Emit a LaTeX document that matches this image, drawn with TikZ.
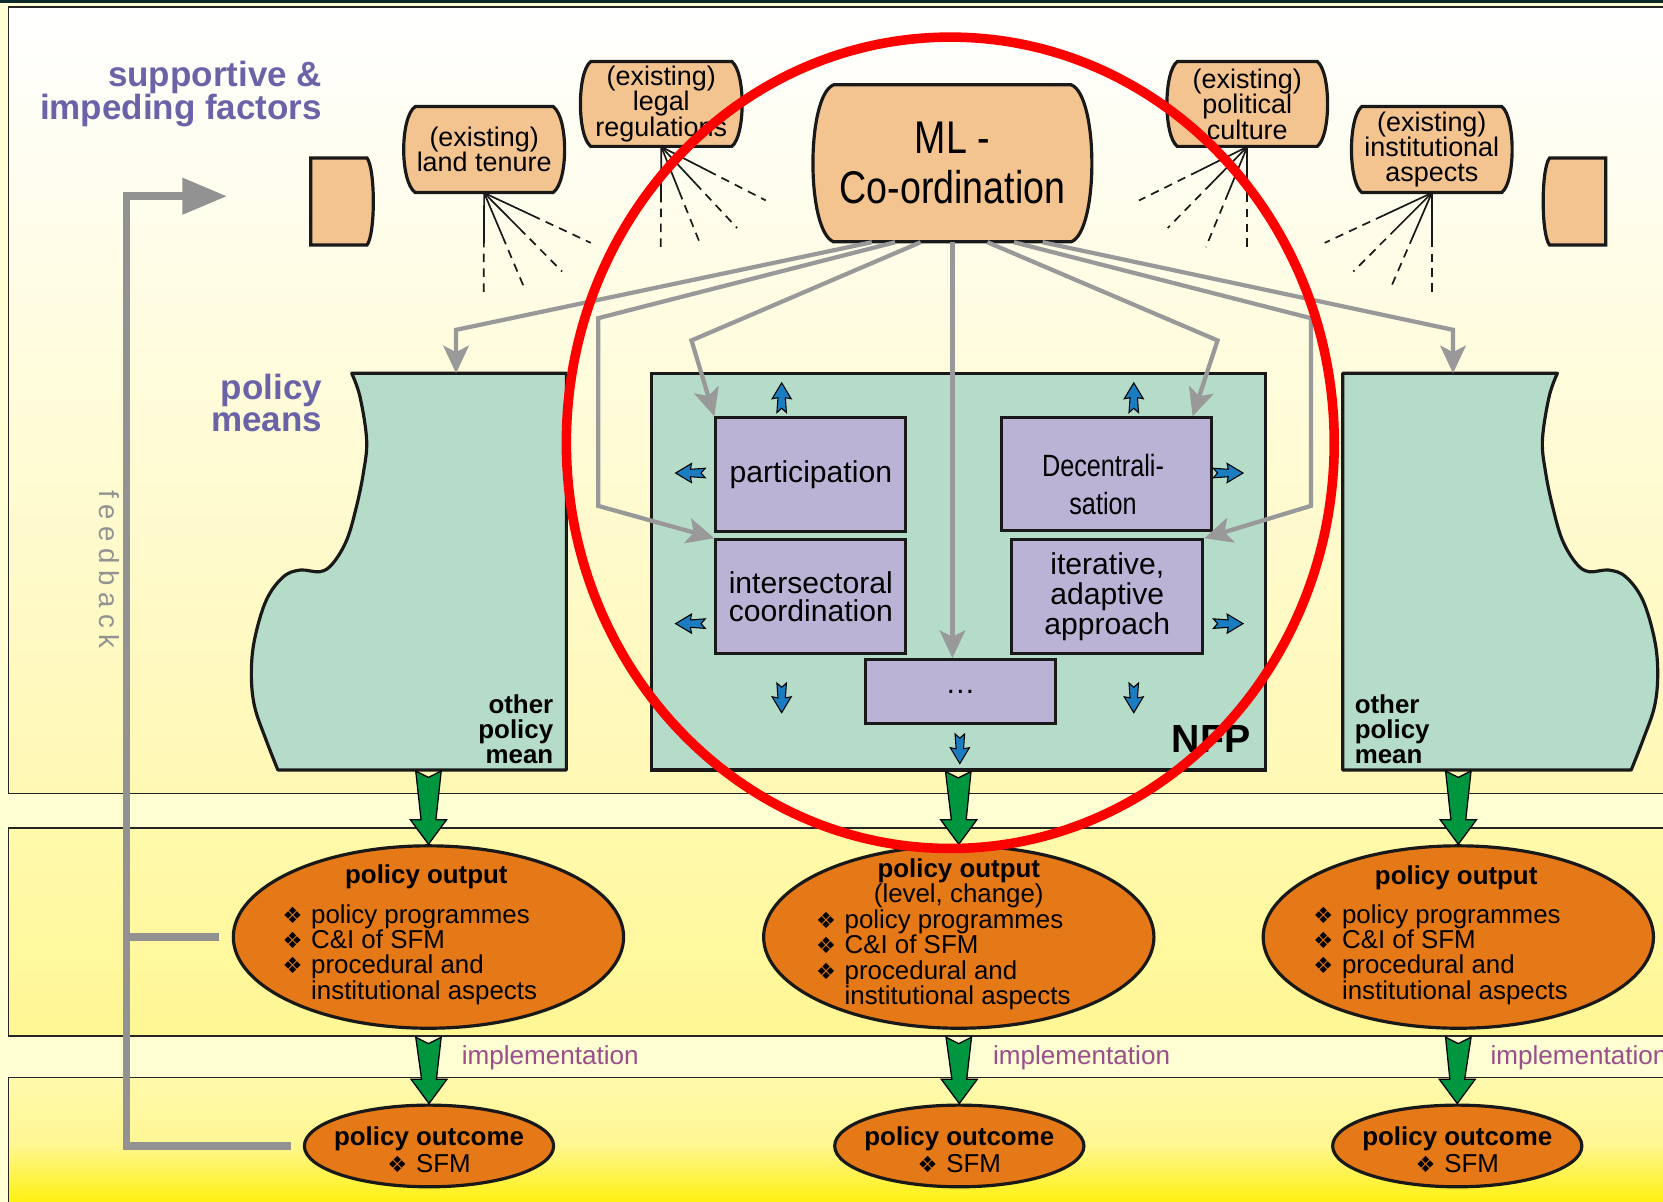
\documentclass[tikz,border=0pt]{standalone}
\usepackage{fontspec}
\setmainfont{Liberation Sans}
\newfontfamily\narrowfont[FakeStretch=0.82]{Liberation Sans}
\newfontfamily\dingfont{DejaVu Sans}
\usetikzlibrary{shapes.geometric,arrows.meta,calc}

\definecolor{peach}{HTML}{F4C490}
\definecolor{mint}{HTML}{B5DCC8}
\definecolor{lilac}{HTML}{BAB3D6}
\definecolor{orng}{HTML}{E57817}
\definecolor{grn}{HTML}{009640}
\definecolor{blu}{HTML}{1A7DC1}
\definecolor{titlec}{HTML}{6B63A8}
\definecolor{implc}{HTML}{9A4E8C}
\definecolor{cream}{HTML}{FFFDD2}
\definecolor{topband}{HTML}{0E2A2A}
\definecolor{ylwA}{HTML}{FFF8B4}
\definecolor{ylwB}{HTML}{FFF9AC}
\definecolor{ylwBb}{HTML}{FFF794}
\definecolor{ylwC}{HTML}{FFF000}
\definecolor{gline}{HTML}{999999}
\definecolor{fbgray}{HTML}{929292}

\newcommand\bul{\makebox[13.5pt][l]{\dingfont\fontsize{10.5}{10.5}\selectfont ❖}}

% barrel shaped factor box, then its text node
\newcommand\barrelnode[8][]{%
  \filldraw[facbox] (#3-#5/2,#4-#6/2) -- (#3+#5/2,#4-#6/2)
    .. controls (#3+#5/2+#7,#4-#6/2+10) and (#3+#5/2+#7,#4+#6/2-10) .. (#3+#5/2,#4+#6/2)
    -- (#3-#5/2,#4+#6/2)
    .. controls (#3-#5/2-#7,#4+#6/2-10) and (#3-#5/2-#7,#4-#6/2+10) .. cycle;
  \node[factxt, minimum height=#6*0.5pt, #1] (#2) at (#3,#4) {#8};}

% fan of influence lines
\newcommand\fan[2]{%
  \draw[fanl] (#1.south) -- ($(#1.south)!.45!(#2)$);
  \draw[fanl, dash pattern=on 4pt off 3pt] ($(#1.south)!.45!(#2)$) -- (#2);}

% green block arrow
\newcommand\grarrow[2]{%
  \filldraw[grnarr] let \p1=(#1), \p2=(#2) in
    (\x1-6pt,\y1) -- (\x1,\y1-3pt) -- (\x1+6pt,\y1) -- (\x2+3.5pt,\y2+11.5pt)
    -- (\x2+8.5pt,\y2+11.5pt) -- (\x2,\y2) -- (\x2-8.5pt,\y2+11.5pt)
    -- (\x2-3.5pt,\y2+11.5pt) -- cycle;}

\tikzset{
  facbox/.style={fill=peach, draw=black!90, line width=1.5pt},
  factxt/.style={inner sep=0, align=center, font=\fontsize{12.7}{12}\selectfont},
  fanl/.style={draw=black!90, line width=0.8pt},
  pmbox/.style={fill=mint, draw=black!90, line width=1.5pt, line join=round},
  ibox/.style={fill=lilac, draw=black!90, line width=1.5pt, inner sep=0, align=center,
    font=\fontsize{14.2}{13}\selectfont},
  garr/.style={draw=gline, line width=2pt, line join=miter,
    -{Stealth[length=13pt,width=12pt,inset=3pt]}},
  grnarr/.style={fill=grn, draw=black, line width=0.6pt, line join=miter},
  outell/.style={ellipse, fill=orng, draw=black!90, line width=1.5pt, inner sep=0},
  hdtxt/.style={inner sep=0, align=center, font=\fontsize{12.2}{11.8}\selectfont},
  lsttxt/.style={inner sep=0, align=left, font=\fontsize{12.2}{12}\selectfont},
  ttl/.style={inner sep=0, align=right, text=titlec, font=\bfseries\fontsize{16.5}{15.5}\selectfont},
  pmtxt/.style={inner sep=0, font=\bfseries\fontsize{12.2}{11.8}\selectfont},
  impl/.style={inner sep=0, text=implc, font=\fontsize{12.3}{12.3}\selectfont},
  fbline/.style={draw=fbgray, line width=3.5pt, line join=miter},
  panel/.style={draw=black!85, line width=0.75pt},
  bluarr/.pic={
    \filldraw[fill=blu, draw=black, line width=0.5pt, line join=miter]
      (0,-4.5) -- (14,-3.5) -- (13,-9) -- (28,0) -- (13,9) -- (14,3.5) -- (0,4.5) -- (4,0) -- cycle;
  }
}

\begin{document}
\begin{tikzpicture}[x=0.5pt, y=-0.5pt]
  \useasboundingbox (0,0) rectangle (1568,1133);
  \fill[cream] (0,0) rectangle (1568,1133);
  \fill[topband] (0,0) rectangle (1568,3);

  % bands
  \draw[panel, top color=white, bottom color=ylwA] (8,6.5) rectangle (1580,748);
  \draw[panel, top color=ylwB, bottom color=ylwBb] (8,780.5) rectangle (1580,977);
  \draw[panel, top color=ylwB, bottom color=ylwC, middle color=ylwBb] (8,1016) rectangle (1580,1140);

  % headings
  \node[ttl, anchor=east] (sif) at (304,89) {supportive \&\\impeding factors};
  \node[ttl, anchor=east] (pmn) at (304,380) {policy\\means};

  % supportive and impeding factors
  \filldraw[facbox] (293,149) -- (346,149) .. controls (354,159) and (354,221) .. (346,231) -- (293,231) -- cycle;
  \filldraw[facbox] (1514,149) -- (1461,149) .. controls (1453,159) and (1453,221) .. (1461,231) -- (1514,231) -- cycle;
  \barrelnode{lt}{456.5}{141}{130}{81}{14.5}{(existing)\\land tenure}
  \barrelnode{lr}{623.5}{98}{133}{80}{13}{(existing)\\legal\\regulations}
  \barrelnode[font=\narrowfont\fontsize{21.6}{23.5}\selectfont]{ml}{898}{154}{224}{148}{26}{ML -\\Co-ordination}
  \barrelnode{pc}{1176}{98}{132}{80}{13}{(existing)\\political\\culture}
  \barrelnode{ia}{1350}{141}{132}{81}{13}{(existing)\\institutional\\aspects}

  \foreach \ex/\ey [count=\i] in {456/278,495/273,530/256,557/229} {\coordinate (ltf\i) at (\ex,\ey); \fan{lt}{ltf\i}}
  \foreach \ex/\ey [count=\i] in {623/237,661/232,695/215,722/189} {\coordinate (lrf\i) at (\ex,\ey); \fan{lr}{lrf\i}}
  \foreach \ex/\ey [count=\i] in {1176/237,1137/233,1101/215,1074/189} {\coordinate (pcf\i) at (\ex,\ey); \fan{pc}{pcf\i}}
  \foreach \ex/\ey [count=\i] in {1350/278,1311/272,1276/256,1249/229} {\coordinate (iaf\i) at (\ex,\ey); \fan{ia}{iaf\i}}

  % policy means
  \filldraw[pmbox] (534,352) -- (534,726) -- (262,726) -- plot[smooth, tension=.6] coordinates {(262,726) (251,698) (240,666) (237,635) (240,603) (251,566) (267,544) (283,537.5) (302,539) (314,531) (327,509) (336,478) (342.6,446) (345.7,415) (339.4,374) (331.6,352)} -- cycle;
  \filldraw[pmbox] (1266,352) -- (1266,726) -- (1538,726) -- plot[smooth, tension=.6] coordinates {(1538,726) (1549,698) (1560,666) (1563,635) (1560,603) (1549,566) (1533,544) (1517,537.5) (1498,539) (1486,531) (1473,509) (1464,478) (1457.4,446) (1454.3,415) (1460.6,374) (1468.4,352)} -- cycle;
  \node[pmtxt, anchor=east, align=right] (lpm) at (522,688) {other\\policy\\mean};
  \node[pmtxt, anchor=west, align=left] (rpm) at (1277,688) {other\\policy\\mean};
  \coordinate (lpmtop) at (430,352);
  \coordinate (rpmtop) at (1370,352);
  \coordinate (lpmbot) at (404,727);
  \coordinate (rpmbot) at (1375,727);

  \node[draw=black!90, line width=1.5pt, fill=mint, minimum width=289.5pt, minimum height=187pt, inner sep=0] (nfp) at (903.5,539) {};
  \node[inner sep=0, font=\bfseries\fontsize{18.5}{18.5}\selectfont] (nfplbl) at (1142,697) {NFP};

  \node[ibox, minimum width=89.5pt, minimum height=53.5pt] (part) at (764.5,447.5) {participation};
  \node[ibox, minimum width=89.5pt, minimum height=53.5pt] (inter) at (764.5,562.5) {intersectoral\\coordination};
  \node[ibox, minimum width=99pt, minimum height=53pt] (dec) at (1043,447) {};
  \node[inner sep=0, align=center, font=\narrowfont\fontsize{14.5}{18}\selectfont] (dectxt) at (1040,457) {Decentrali-\\sation};
  \node[ibox, minimum width=90pt, minimum height=53.5pt, font=\fontsize{14.2}{14}\selectfont] (iter) at (1044,562.5) {iterative,\\adaptive\\approach};
  \node[ibox, minimum width=89.5pt, minimum height=30pt] (dots) at (905.5,652) {…};

  % co-ordination links
  \draw[garr] ($(ml.south)+(-76,0)$) -- (430,311) -- (lpmtop);
  \draw[garr] ($(ml.south)+(-54,0)$) -- (564,300) -- (564,477) -- (inter.north west);
  \draw[garr] ($(ml.south)+(-30,0)$) -- (652,321) -- (part.north west);
  \draw[garr] (ml.south) -- (ml.south |- dots.north);
  \draw[garr] ($(ml.south)+(33,0)$) -- (1148,321) -- ($(dec.north east)+(-19,0)$);
  \draw[garr] ($(ml.south)+(58,0)$) -- (1236,300) -- (1236,477) -- (iter.north east);
  \draw[garr] ($(ml.south)+(85,0)$) -- (1370,311) -- (rpmtop);

  % small blue arrows
  \pic[rotate=90] at (737,389) {bluarr};
  \pic[rotate=90] at (1069,389) {bluarr};
  \pic[rotate=180] at (665,446) {bluarr};
  \pic[rotate=180] at (665,588) {bluarr};
  \pic at (1144,446) {bluarr};
  \pic at (1144,588) {bluarr};
  \pic[rotate=-90] at (737,644) {bluarr};
  \pic[rotate=-90] at (1069,644) {bluarr};
  \pic[rotate=-90] at (905,692) {bluarr};

  % output and outcome
  \node[outell, minimum width=184pt, minimum height=86pt] (out1) at (404,883.5) {};
  \node[outell, minimum width=184pt, minimum height=86pt] (out2) at (904,883.5) {};
  \node[outell, minimum width=184pt, minimum height=86pt] (out3) at (1375,883.5) {};
  \node[hdtxt] (out1hd) at (402,827) {\textbf{policy output}};
  \node[hdtxt] (out2hd) at (904,833) {\textbf{policy output}\\(level, change)};
  \node[hdtxt] (out3hd) at (1373,828) {\textbf{policy output}};
  \node[lsttxt, anchor=west] (out1ls) at (266,900) {\bul policy programmes\\\bul C\&I of SFM\\\bul procedural and\\\hspace*{13.5pt}institutional aspects};
  \node[lsttxt, anchor=west] (out2ls) at (769,905) {\bul policy programmes\\\bul C\&I of SFM\\\bul procedural and\\\hspace*{13.5pt}institutional aspects};
  \node[lsttxt, anchor=west] (out3ls) at (1238,900) {\bul policy programmes\\\bul C\&I of SFM\\\bul procedural and\\\hspace*{13.5pt}institutional aspects};

  \node[outell, minimum width=117.5pt, minimum height=38.5pt] (oc1) at (404.5,1080.5) {};
  \node[outell, minimum width=117.5pt, minimum height=38.5pt] (oc2) at (904.5,1080.5) {};
  \node[outell, minimum width=117.5pt, minimum height=38.5pt] (oc3) at (1374,1080.5) {};
  \node[hdtxt, font=\fontsize{12.2}{12.75}\selectfont] (oc1tx) at (404.5,1084) {\textbf{policy outcome}\\\bul SFM};
  \node[hdtxt, font=\fontsize{12.2}{12.75}\selectfont] (oc2tx) at (904.5,1084) {\textbf{policy outcome}\\\bul SFM};
  \node[hdtxt, font=\fontsize{12.2}{12.75}\selectfont] (oc3tx) at (1374,1084) {\textbf{policy outcome}\\\bul SFM};

  \grarrow{lpmbot}{out1.north}
  \grarrow{nfp.south}{out2.north}
  \grarrow{rpmbot}{out3.north}
  \grarrow{$(out1.south)+(0,7)$}{oc1.north}
  \grarrow{$(out2.south)+(0,7)$}{oc2.north}
  \grarrow{$(out3.south)+(0,7)$}{oc3.north}
  \node[impl, anchor=west] (imp1) at (435,997) {implementation};
  \node[impl, anchor=west] (imp2) at (936,997) {implementation};
  \node[impl, anchor=west] (imp3) at (1405,997) {implementation};

  % feedback
  \coordinate (fbtip) at (214,185);
  \draw[fbline, -{Triangle[length=21pt,width=16.5pt]}] ([xshift=-5.5pt]oc1.west) -- ++(-155,0) |- (fbtip);
  \draw[fbline] ([xshift=-6pt]out1.west) -- ++(-90,0);
  \node[inner sep=0, rotate=-90, text=fbgray, font=\fontsize{13}{13}\selectfont\addfontfeatures{LetterSpace=24}] (fbl) at (103,537) {feedback};

  % highlight
  \draw[red, line width=4.5pt] (896,417.5) ellipse [x radius=362, y radius=382.5];
\end{tikzpicture}
\end{document}
